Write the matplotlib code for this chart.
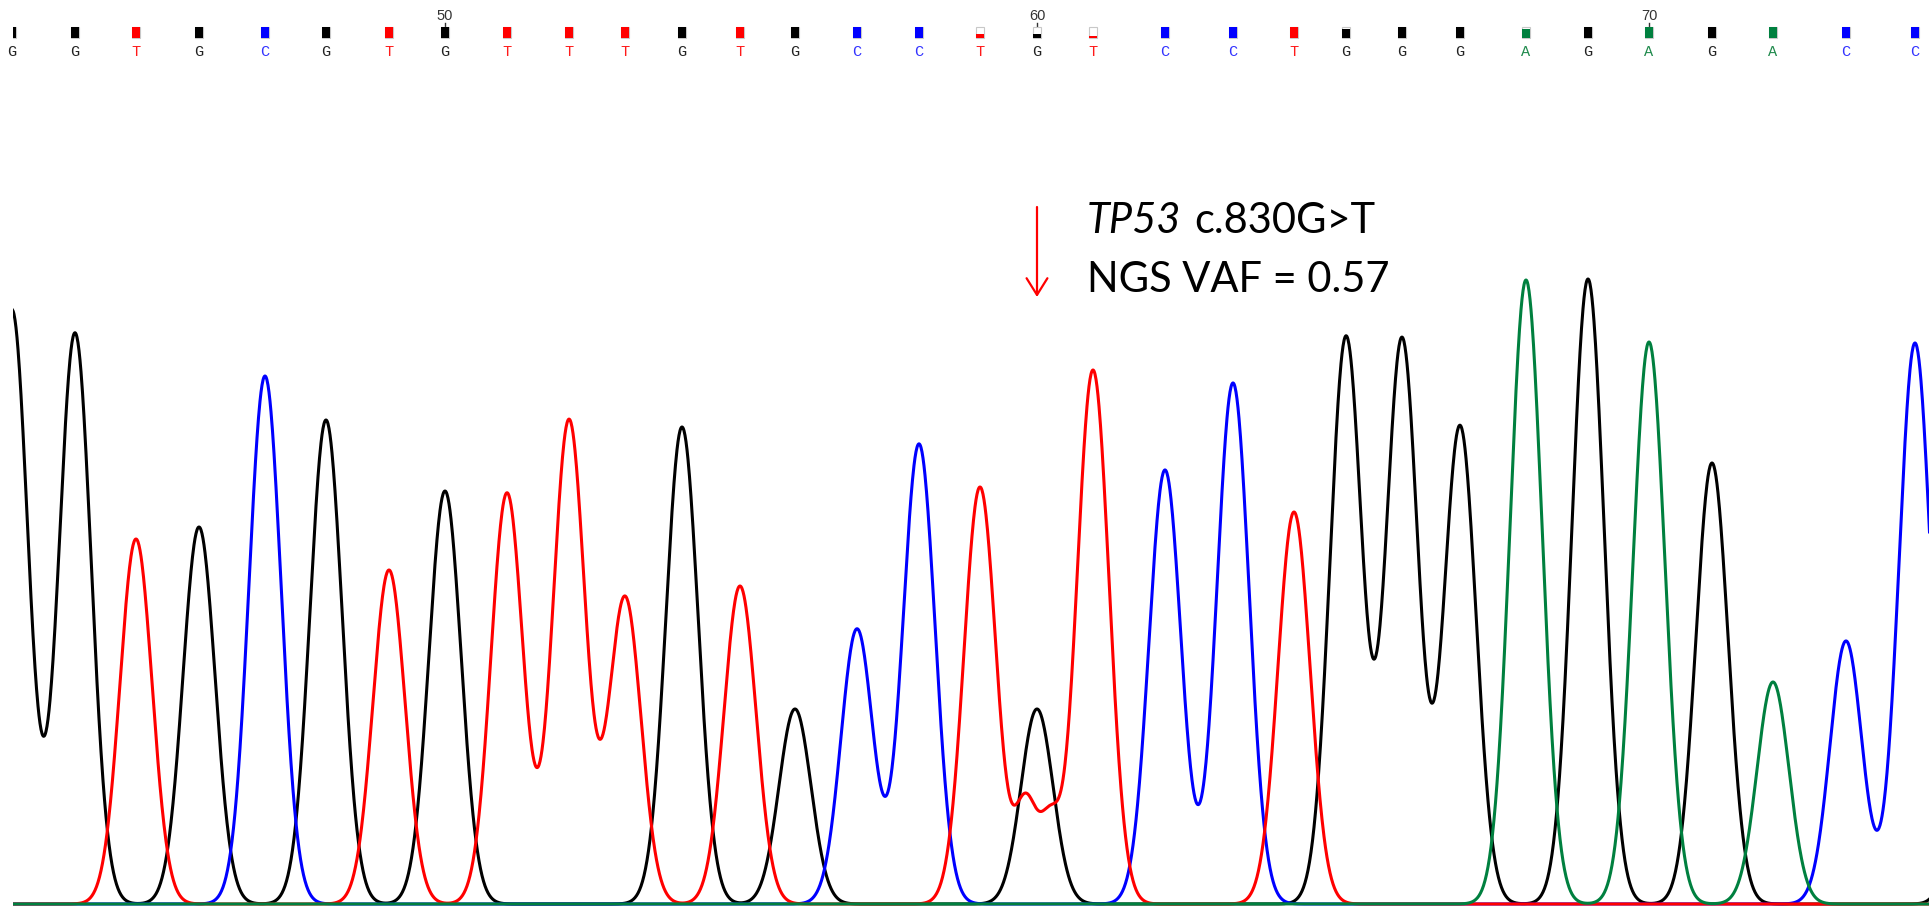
import numpy as np
import matplotlib.pyplot as plt
from matplotlib.patches import Rectangle

# Sanger trace around TP53 c.830G>T, bases numbered from 43
first_base = 43
bases = "GGTGCGTGTTTGTGCCTGTCCTGGGAGAGACC"
call_pos = [12, 75, 136, 199, 265, 326, 389, 445, 507, 569, 625, 682, 740, 795,
            857, 919, 980, 1037, 1093, 1165, 1233, 1294, 1346, 1402, 1460, 1526,
            1588, 1649, 1712, 1773, 1846, 1915]
peak_height = [594, 571, 365, 377, 528, 484, 334, 413, 411, 484, 307, 477, 318, 195,
               275, 460, 417, 195, 534, 434, 521, 392, 567, 565, 478, 624, 625, 562,
               441, 222, 263, 561]
call_quality = [1, 1, 1, 1, 1, 1, 1, 1, 1, 1, 1, 1, 1, 1, 1, 1,
                0.35, 0.35, 0.18, 1, 1, 1, 0.8, 1, 1, 0.8, 1, 1, 1, 1, 1, 1]

# secondary / off-screen peaks
extra_base = ['T', 'T', 'G']
extra_pos = [1026, 1050, 1978]
extra_height = [100, 75, 500]
extra_width = [11, 10, 16]
peak_width = 16

mutation_pos = 1037
note_gene = 'TP53'
note_change = 'c.830G>T'
note_vaf = 'NGS VAF = 0.57'

trace_color = {'G': 'black', 'T': '#ff0000', 'C': '#0000ff', 'A': '#00803f'}
letter_color = {'G': '#222222', 'T': '#ff1a1a', 'C': '#3333ff', 'A': '#1f8a4c'}

scan = np.arange(0, 2000, 0.5)
traces = {b: np.zeros_like(scan) for b in 'GTCA'}
for b, p, h in zip(bases, call_pos, peak_height):
    traces[b] += h * np.exp(-0.5 * ((scan - p) / peak_width) ** 2)
for b, p, h, w in zip(extra_base, extra_pos, extra_height, extra_width):
    traces[b] += h * np.exp(-0.5 * ((scan - p) / w) ** 2)

fig = plt.figure(figsize=(19.33, 9.07), dpi=100)
ax = fig.add_axes([13 / 1933, 0, 1916 / 1933, 1])
ax.set_xlim(13, 1929)
ax.set_ylim(-3, 904)
ax.set_axis_off()

for z, b in enumerate(['G', 'C', 'T', 'A']):
    ax.plot(scan, traces[b], color=trace_color[b], lw=2.2, zorder=2 + z,
            solid_joinstyle='round')

# base call track
top = 904
for i, (b, p, q) in enumerate(zip(bases, call_pos, call_quality)):
    ax.add_patch(Rectangle((p - 4, top - 38), 8, 11, facecolor='white',
                           edgecolor='#c8c8c8', lw=0.8, zorder=5))
    ax.add_patch(Rectangle((p - 4, top - 38), 8, 11 * q, facecolor=trace_color[b],
                           edgecolor='none', zorder=6))
    ax.text(p, top - 52, b, color=letter_color[b], family='Liberation Mono',
            fontsize=11, ha='center', va='center', zorder=6)
    n = first_base + i
    if n % 10 == 0:
        ax.text(p, top - 15.5, str(n), family='Liberation Sans', fontsize=10.5,
                color='#333333', ha='center', va='center')
        ax.plot([p, p], [top - 27, top - 23], color='#333333', lw=1)

# mutation arrow and note
ax.annotate('', xy=(mutation_pos, top - 297), xytext=(mutation_pos, top - 207),
            arrowprops=dict(arrowstyle='->,head_length=1.2,head_width=0.75',
                            color='#ff0000', lw=1.6, shrinkA=0, shrinkB=0))
t1 = ax.text(1087, top - 233, note_gene, family='Lato', style='italic',
             fontsize=30, va='baseline', ha='left')
ax.text(1087, top - 292, note_vaf, family='Lato', fontsize=30,
        va='baseline', ha='left')
fig.canvas.draw()
bb = t1.get_window_extent(fig.canvas.get_renderer())
x_end = ax.transData.inverted().transform((bb.x1, bb.y0))[0]
ax.text(x_end + 13, top - 233, note_change, family='Lato', fontsize=30,
        va='baseline', ha='left')

fig.savefig('out.png', dpi=100)
